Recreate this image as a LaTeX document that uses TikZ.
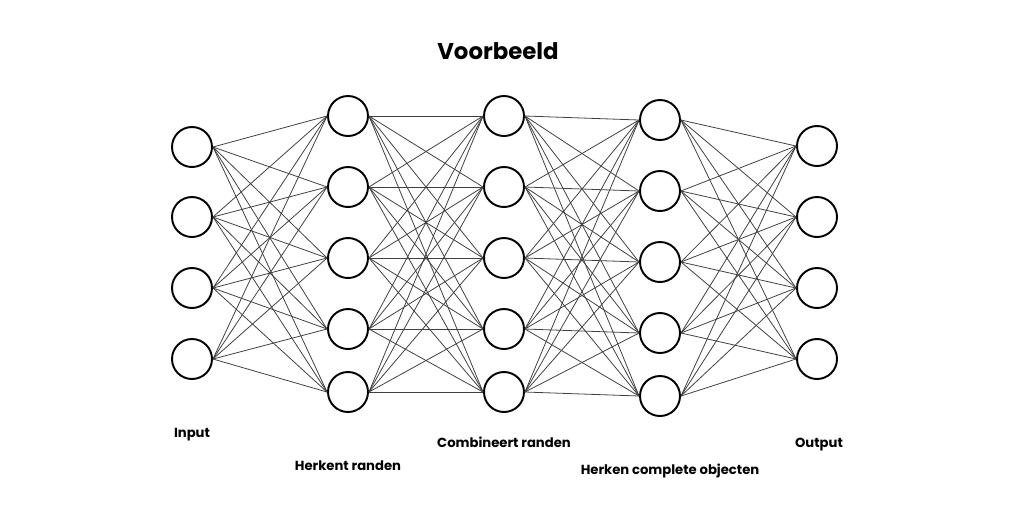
\documentclass[tikz,border=0pt]{standalone}
\usepackage{fontspec}
\setsansfont{Poppins}
\usetikzlibrary{positioning}
\tikzset{
  neuron/.style   = {draw, circle, line width=1.1pt, minimum size=8mm, inner sep=0pt},
  verbinding/.style = {draw=black!75, line width=0.45pt},
  titel/.style    = {font=\sffamily\bfseries\fontsize{13}{15}\selectfont, anchor=base, inner sep=0pt},
  laag/.style     = {font=\sffamily\bfseries\fontsize{7.5}{9}\selectfont, anchor=base, inner sep=0pt}
}
\begin{document}
\begin{tikzpicture}[x=0.02cm, y=-0.02cm]
        \useasboundingbox (0,0) rectangle (1024,512);

        \node[titel] (titel) at (498,59) {Voorbeeld};

        % input
        \node[neuron] (in1) at (192,147) {};
        \node[neuron] (in2) at (192,217) {};
        \node[neuron] (in3) at (192,288) {};
        \node[neuron] (in4) at (192,359) {};

        % herkent randen
        \node[neuron] (ra1) at (348,116) {};
        \node[neuron] (ra2) at (348,187) {};
        \node[neuron] (ra3) at (348,258) {};
        \node[neuron] (ra4) at (348,329) {};
        \node[neuron] (ra5) at (348,392) {};

        % combineert randen
        \node[neuron] (co1) at (504,116) {};
        \node[neuron] (co2) at (504,187) {};
        \node[neuron] (co3) at (504,258) {};
        \node[neuron] (co4) at (504,329) {};
        \node[neuron] (co5) at (504,392) {};

        % complete objecten
        \node[neuron] (ob1) at (660,120) {};
        \node[neuron] (ob2) at (660,191) {};
        \node[neuron] (ob3) at (660,262) {};
        \node[neuron] (ob4) at (660,333) {};
        \node[neuron] (ob5) at (660,396) {};

        % output
        \node[neuron] (out1) at (817,146) {};
        \node[neuron] (out2) at (817,217) {};
        \node[neuron] (out3) at (817,288) {};
        \node[neuron] (out4) at (817,359) {};

        \foreach \a in {1,...,4}
          \foreach \b in {1,...,5}
            \draw[verbinding] (in\a.east) -- (ra\b.west);
        \foreach \a in {1,...,5}
          \foreach \b in {1,...,5} {
            \draw[verbinding] (ra\a.east) -- (co\b.west);
            \draw[verbinding] (co\a.east) -- (ob\b.west);
          }
        \foreach \a in {1,...,5}
          \foreach \b in {1,...,4}
            \draw[verbinding] (ob\a.east) -- (out\b.west);

        \node[laag] (lin)  at (192,437) {Input};
        \node[laag] (lra)  at (348,470) {Herkent randen};
        \node[laag] (lco)  at (504,447) {Combineert randen};
        \node[laag] (lob)  at (670,474) {Herken complete objecten};
        \node[laag] (lout) at (819,447) {Output};
    \end{tikzpicture}
\end{document}
